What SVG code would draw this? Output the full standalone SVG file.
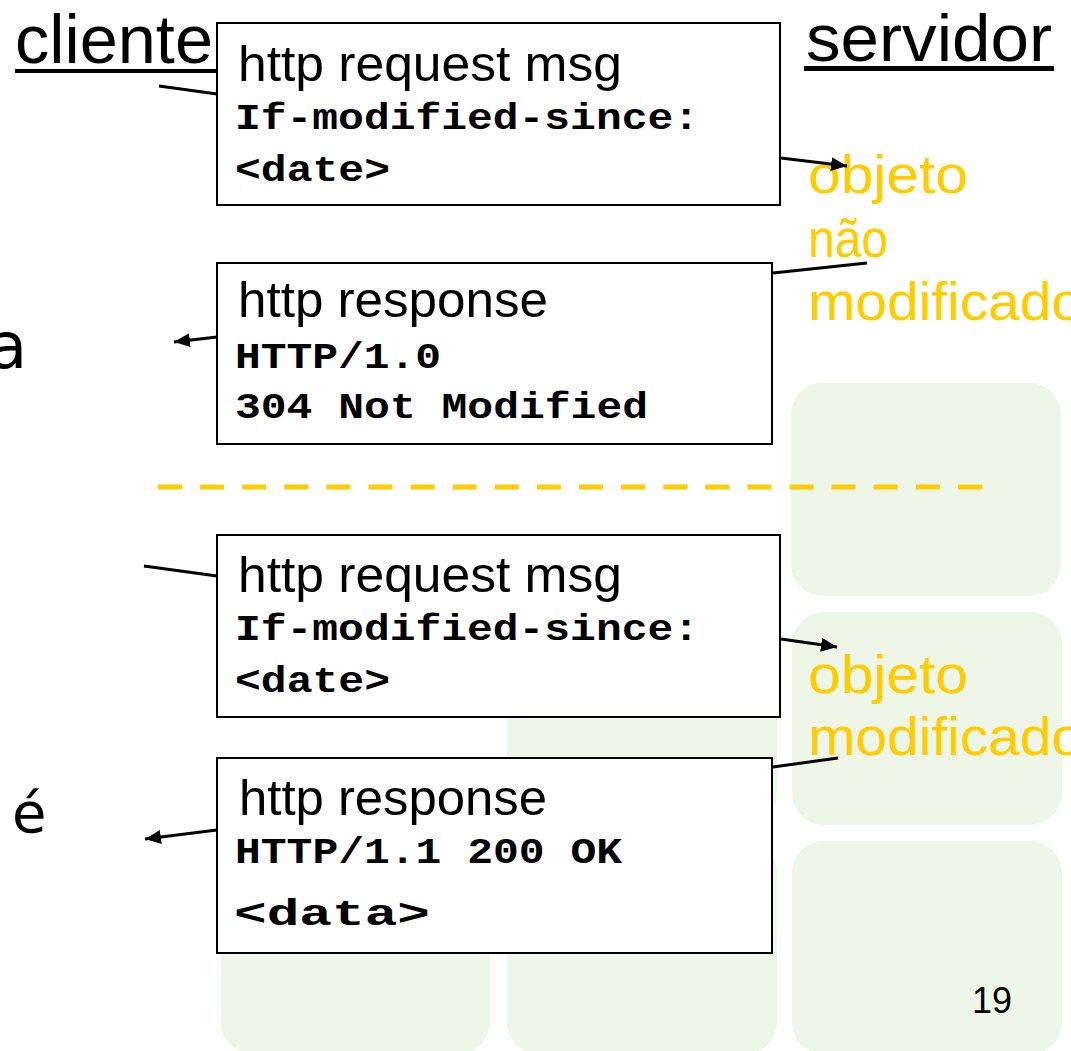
<svg xmlns="http://www.w3.org/2000/svg" width="1071" height="1051" viewBox="0 0 1071 1051">
  <defs>
    <style>
      .tile { fill: #EEF6E8; }
      .box { fill: #FFFFFF; stroke: #000000; stroke-width: 2; }
      .hand { font-family: "Liberation Sans", Arial, sans-serif; fill: #000000; }
      .head { font-size: 50px; }
      .mono { font-family: "Liberation Mono", "DejaVu Sans Mono", monospace; font-weight: bold; font-size: 36px; fill: #000000; }
      .note { font-family: "Liberation Sans", Arial, sans-serif; font-size: 54px; fill: #FFCC00; }
      .side { font-family: "DejaVu Sans", "Liberation Sans", sans-serif; fill: #000000; }
      .wire { stroke: #000000; stroke-width: 3; fill: none; }
    </style>
    <marker id="arrow" markerUnits="userSpaceOnUse" markerWidth="18" markerHeight="14" refX="16" refY="7" orient="auto">
      <path d="M0,0 L16,7 L0,14 Z" fill="#000000"/>
    </marker>
  </defs>

  <!-- background slide tiles -->
  <g id="tiles">
    <rect class="tile" x="791" y="383" width="270" height="213" rx="32"/>
    <rect class="tile" x="792" y="612" width="270" height="213" rx="32"/>
    <rect class="tile" x="792" y="841" width="270" height="213" rx="32"/>
    <rect class="tile" x="507" y="612" width="270" height="213" rx="32"/>
    <rect class="tile" x="507" y="841" width="270" height="213" rx="32"/>
    <rect class="tile" x="221" y="841" width="269" height="213" rx="32"/>
  </g>

  <!-- column headings -->
  <g id="cliente">
    <text class="hand" x="15" y="63" font-size="68" textLength="198" lengthAdjust="spacingAndGlyphs">cliente</text>
    <rect x="15" y="69" width="202" height="4" fill="#000000"/>
  </g>
  <g id="servidor">
    <text class="hand" x="806" y="61" font-size="66" textLength="246" lengthAdjust="spacingAndGlyphs">servidor</text>
    <rect x="804" y="66" width="250" height="5" fill="#000000"/>
  </g>

  <!-- left-edge fragments -->
  <g id="left-fragments">
    <text class="side" x="-12" y="368" font-size="64">a</text>
    <text class="side" x="12" y="832" font-size="56">é</text>
  </g>

  <!-- first exchange: conditional GET, object unchanged -->
  <g id="request1">
    <rect class="box" x="217" y="23" width="563" height="182"/>
    <text class="hand head" x="238" y="81" textLength="384" lengthAdjust="spacingAndGlyphs">http request msg</text>
    <text class="mono" x="235" y="129" textLength="464" lengthAdjust="spacingAndGlyphs">If-modified-since:</text>
    <text class="mono" x="235" y="181" textLength="155" lengthAdjust="spacingAndGlyphs">&lt;date&gt;</text>
  </g>
  <g id="response1">
    <rect class="box" x="217" y="263" width="555" height="181"/>
    <text class="hand head" x="238" y="317" textLength="310" lengthAdjust="spacingAndGlyphs">http response</text>
    <text class="mono" x="235" y="368" textLength="206" lengthAdjust="spacingAndGlyphs">HTTP/1.0</text>
    <text class="mono" x="235" y="418" textLength="413" lengthAdjust="spacingAndGlyphs">304 Not Modified</text>
  </g>
  <g id="note1">
    <text class="note" x="808" y="193" textLength="160" lengthAdjust="spacingAndGlyphs">objeto</text>
    <text class="note" x="808" y="257" textLength="80" lengthAdjust="spacingAndGlyphs">não</text>
    <text class="note" x="808" y="320" textLength="275" lengthAdjust="spacingAndGlyphs">modificado</text>
  </g>

  <!-- separator -->
  <g id="separator">
    <line x1="158" y1="487" x2="982" y2="487" stroke="#FFCC00" stroke-width="5" stroke-dasharray="24 18.1"/>
  </g>

  <!-- second exchange: conditional GET, object changed -->
  <g id="request2">
    <rect class="box" x="217" y="535" width="563" height="182"/>
    <text class="hand head" x="238" y="592" textLength="384" lengthAdjust="spacingAndGlyphs">http request msg</text>
    <text class="mono" x="235" y="640" textLength="464" lengthAdjust="spacingAndGlyphs">If-modified-since:</text>
    <text class="mono" x="235" y="692" textLength="155" lengthAdjust="spacingAndGlyphs">&lt;date&gt;</text>
  </g>
  <g id="response2">
    <rect class="box" x="217" y="758" width="555" height="195"/>
    <text class="hand head" x="239" y="815" textLength="308" lengthAdjust="spacingAndGlyphs">http response</text>
    <text class="mono" x="235" y="863" textLength="387" lengthAdjust="spacingAndGlyphs">HTTP/1.1 200 OK</text>
    <text class="mono" x="234" y="925" font-size="43" textLength="196" lengthAdjust="spacingAndGlyphs">&lt;data&gt;</text>
  </g>
  <g id="note2">
    <text class="note" x="808" y="693" textLength="160" lengthAdjust="spacingAndGlyphs">objeto</text>
    <text class="note" x="808" y="755" textLength="275" lengthAdjust="spacingAndGlyphs">modificado</text>
  </g>

  <!-- page number -->
  <g id="page-number">
    <text x="972" y="1013" font-family="Liberation Sans, Arial, sans-serif" font-size="36" fill="#000000">19</text>
  </g>

  <!-- message connectors -->
  <g id="connectors">
    <line class="wire" x1="159" y1="86" x2="217" y2="94"/>
    <line class="wire" x1="781" y1="158" x2="847" y2="166" marker-end="url(#arrow)"/>
    <line class="wire" x1="773" y1="273" x2="867" y2="263"/>
    <line class="wire" x1="217" y1="337" x2="174" y2="342" marker-end="url(#arrow)"/>
    <line class="wire" x1="144" y1="566" x2="217" y2="576"/>
    <line class="wire" x1="781" y1="639" x2="837" y2="647" marker-end="url(#arrow)"/>
    <line class="wire" x1="773" y1="767" x2="838" y2="758"/>
    <line class="wire" x1="217" y1="830" x2="145" y2="839" marker-end="url(#arrow)"/>
  </g>
</svg>
